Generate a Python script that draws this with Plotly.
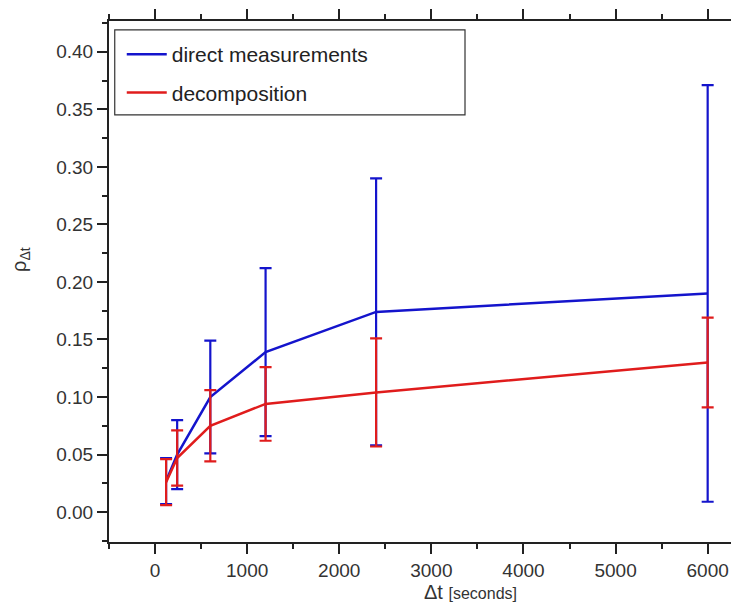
import plotly.graph_objects as go

dt_seconds = [120, 240, 600, 1200, 2400, 6000]
direct_vals = [0.027, 0.050, 0.100, 0.139, 0.174, 0.190]
direct_err = [0.020, 0.030, 0.049, 0.073, 0.116, 0.181]
decomp_vals = [0.026, 0.047, 0.075, 0.094, 0.104, 0.130]
decomp_err = [0.020, 0.024, 0.031, 0.032, 0.047, 0.039]

BLUE = "#1414cc"
RED = "#e01c1c"
AXIS = "#222222"

fig = go.Figure()
fig.add_trace(go.Scatter(
    x=dt_seconds, y=direct_vals, mode="lines", name="direct measurements",
    legendgroup="a",
    line=dict(color=BLUE, width=2.5),
    error_y=dict(type="data", array=direct_err, visible=True, color=BLUE, thickness=2.2, width=6),
))
fig.add_trace(go.Scatter(
    x=dt_seconds, y=decomp_vals, mode="lines", name="decomposition",
    legendgroup="b",
    line=dict(color=RED, width=2.5),
    error_y=dict(type="data", array=decomp_err, visible=True, color=RED, thickness=2.2, width=6),
))

fig.add_shape(type="rect", xref="paper", yref="paper",
              x0=0.009, x1=0.558, y0=0.820, y1=0.983,
              line=dict(color="#333333", width=1.2), fillcolor="rgba(0,0,0,0)")

fig.add_annotation(xref="paper", yref="paper", x=(462 - 101) / 638, y=-(584 - 534) / 521,
                   text="Δt <span style='font-size:16px'>[seconds]</span>",
                   showarrow=False, xanchor="center", yanchor="middle",
                   font=dict(size=20, color="#333333"))
fig.add_annotation(xref="paper", yref="paper", x=-(101 - 13) / 638, y=(534 - 252) / 521,
                   text="ρ<sub>Δt</sub>", textangle=-90,
                   showarrow=False, xanchor="center", yanchor="middle",
                   font=dict(size=20, color="#333333"))

fig.update_layout(
    width=739, height=602,
    margin=dict(l=101, r=0, t=13, b=68),
    paper_bgcolor="white", plot_bgcolor="white",
    font=dict(family="Liberation Sans, Arial, sans-serif", size=19, color="#333333"),
    showlegend=True,
    legend=dict(x=0.02, y=0.975, xanchor="left", yanchor="top",
                bgcolor="rgba(0,0,0,0)", borderwidth=0, tracegroupgap=8,
                font=dict(size=21, color="#222222"), itemwidth=40),
    xaxis=dict(
        range=[-500, 6427], tickmode="linear", tick0=0, dtick=1000,
        ticks="outside", ticklen=10, tickwidth=2, tickcolor=AXIS,
        minor=dict(dtick=500, ticks="outside", ticklen=5, tickwidth=2, tickcolor=AXIS),
        showline=True, linecolor=AXIS, linewidth=2, mirror="ticks",
        showgrid=False, zeroline=False,
    ),
    yaxis=dict(
        range=[-0.026, 0.4268], tickmode="linear", tick0=0, dtick=0.05,
        tickformat=".2f",
        ticks="outside", ticklen=10, tickwidth=2, tickcolor=AXIS,
        minor=dict(dtick=0.025, ticks="outside", ticklen=5, tickwidth=2, tickcolor=AXIS),
        showline=True, linecolor=AXIS, linewidth=2,
        showgrid=False, zeroline=False,
    ),
)

fig.write_html("out.html")
